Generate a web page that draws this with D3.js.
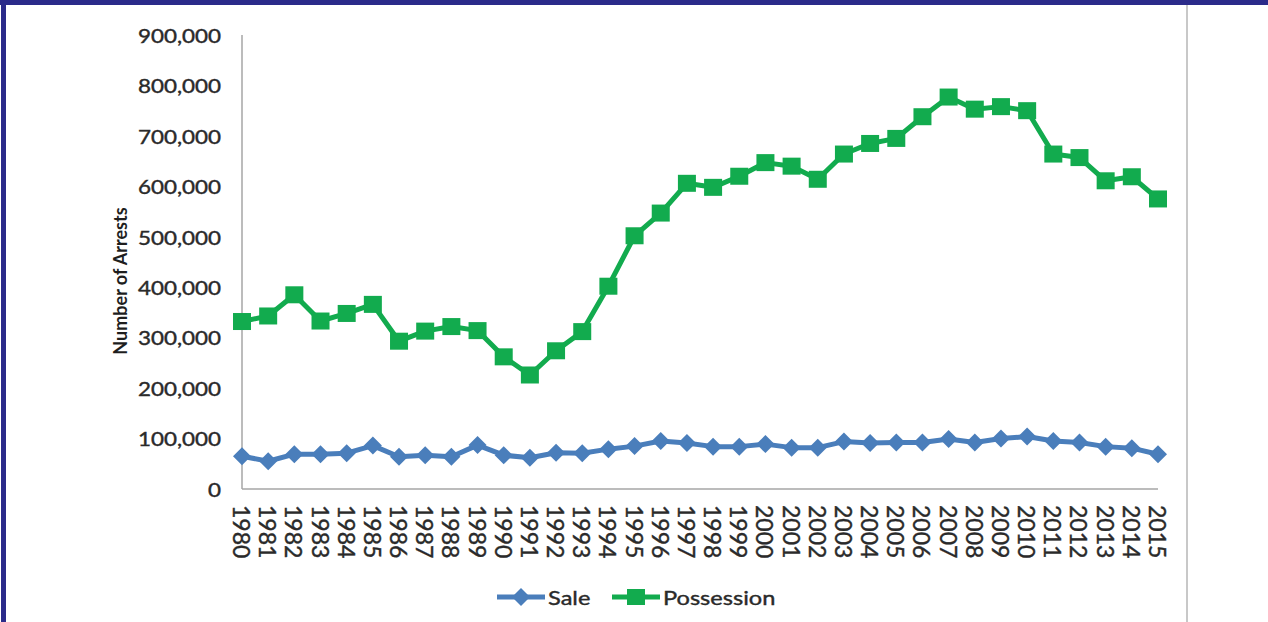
<!DOCTYPE html>
<html>
<head>
<meta charset="utf-8">
<style>
  body { margin: 0; background: #fff; }
  svg { display: block; font-family: Lato, "Open Sans", sans-serif; }
</style>
</head>
<body>
<script src="https://d3js.org/d3.v7.min.js"></script>
<script>
  // data
  var years = d3.range(1980, 2016);
  var sale = [65000, 55000, 69000, 69000, 71000, 86000, 64000, 67000, 64000, 87000,
              67000, 62000, 72000, 71000, 79000, 85000, 95000, 91000, 84000, 84000,
              89000, 82000, 82000, 94000, 91000, 92000, 92000, 99000, 92000, 100000,
              104000, 95000, 92000, 84000, 81000, 69000];
  var possession = [332000, 343000, 385000, 333000, 348000, 366000, 293000, 313000, 322000, 314000,
                    262000, 226000, 274000, 312000, 402000, 502000, 547000, 606000, 598000, 620000,
                    647000, 640000, 614000, 664000, 685000, 695000, 738000, 777000, 753000, 758000,
                    750000, 664000, 657000, 611000, 619000, 575000];
  var yTicks = [0, 100000, 200000, 300000, 400000, 500000, 600000, 700000, 800000, 900000];
  var seriesNames = ['Sale', 'Possession'];

  var W = 1268, H = 622;
  var blue = '#4a7ebb', green = '#12ab4e', ink = '#2a2a2a';

  var svg = d3.select('body').append('svg').attr('width', W).attr('height', H);

  // frame
  svg.append('rect').attr('x', 0).attr('y', 0).attr('width', W).attr('height', 5).attr('fill', '#2b2b8a');
  svg.append('rect').attr('x', 1).attr('y', 0).attr('width', 5).attr('height', H).attr('fill', '#2b2b8a');
  svg.append('line').attr('x1', 1187).attr('x2', 1187).attr('y1', 5).attr('y2', H)
    .attr('stroke', '#c8c8c8').attr('stroke-width', 2);

  // scales
  var x = d3.scalePoint().domain(years).range([242, 1158]);
  var y = d3.scaleLinear().domain([0, 900000]).range([489, 35]);

  // axes lines
  svg.append('line').attr('x1', 242).attr('x2', 242).attr('y1', y(900000)).attr('y2', y(0))
    .attr('stroke', '#a6a6a6').attr('stroke-width', 1.5);
  svg.append('line').attr('x1', 242).attr('x2', 1158).attr('y1', y(0)).attr('y2', y(0))
    .attr('stroke', '#a6a6a6').attr('stroke-width', 1.5);

  // y tick labels
  var fmt = d3.format(',');
  svg.selectAll('text.ytick').data(yTicks).enter().append('text').attr('class', 'ytick')
    .attr('transform', d => `translate(221,${y(d)}) scale(1.18,1)`)
    .attr('text-anchor', 'end').attr('dominant-baseline', 'central')
    .attr('font-size', 19).attr('fill', ink).attr('stroke', ink).attr('stroke-width', 0.4)
    .text(d => fmt(d));

  // x tick labels (rotated)
  svg.selectAll('text.xtick').data(years).enter().append('text').attr('class', 'xtick')
    .attr('transform', d => `translate(${x(d)},505) rotate(90)`)
    .attr('text-anchor', 'start').attr('dominant-baseline', 'central')
    .attr('font-size', 23).attr('fill', ink).attr('stroke', ink).attr('stroke-width', 0.4)
    .text(d => d);

  // axis title
  svg.append('text')
    .attr('transform', 'translate(120,281) rotate(-90)')
    .attr('text-anchor', 'middle').attr('dominant-baseline', 'central')
    .attr('font-size', 18).attr('font-weight', 'bold').attr('fill', '#1e1e1e')
    .text('Number of Arrests');

  // lines
  var line = d3.line().x((d, i) => x(years[i])).y(d => y(d));
  svg.append('path').datum(possession).attr('d', line)
    .attr('fill', 'none').attr('stroke', green).attr('stroke-width', 5).attr('stroke-linejoin', 'round');
  svg.append('path').datum(sale).attr('d', line)
    .attr('fill', 'none').attr('stroke', blue).attr('stroke-width', 5).attr('stroke-linejoin', 'round');

  var diamond = 'M0,-9L9,0L0,9L-9,0Z';

  svg.selectAll('rect.pm').data(possession).enter().append('rect').attr('class', 'pm')
    .attr('x', (d, i) => x(years[i]) - 9).attr('y', d => y(d) - 8.5)
    .attr('width', 18).attr('height', 17).attr('fill', green);

  svg.selectAll('path.sm').data(sale).enter().append('path').attr('class', 'sm')
    .attr('d', diamond).attr('transform', (d, i) => `translate(${x(years[i])},${y(d)})`)
    .attr('fill', blue);

  // legend
  var legX = [497, 612];
  var leg = svg.selectAll('g.leg').data(seriesNames).enter().append('g').attr('class', 'leg')
    .attr('transform', (d, i) => `translate(${legX[i]},597)`);
  leg.append('line').attr('x1', 0).attr('x2', 48).attr('y1', 0).attr('y2', 0)
    .attr('stroke', (d, i) => i ? green : blue).attr('stroke-width', 5);
  leg.filter((d, i) => i === 0).append('path').attr('d', diamond).attr('transform', 'translate(24,0)').attr('fill', blue);
  leg.filter((d, i) => i === 1).append('rect').attr('x', 15).attr('y', -8).attr('width', 18).attr('height', 16).attr('fill', green);
  leg.append('text').attr('transform', 'translate(51,0) scale(1.18,1)')
    .attr('dominant-baseline', 'central').attr('font-size', 20)
    .attr('fill', ink).attr('stroke', ink).attr('stroke-width', 0.4)
    .text(d => d);
</script>
</body>
</html>
